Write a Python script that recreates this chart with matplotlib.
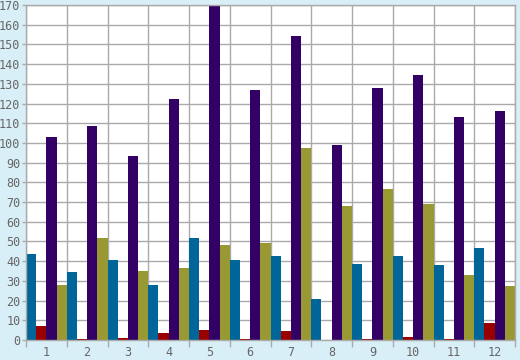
import numpy as np
import matplotlib

matplotlib.use("Agg")
import matplotlib.pyplot as plt

# values, per group 1..12
groups = [str(i) for i in range(1, 13)]
blue = [43.6, 34.5, 40.6, 28, 51.8, 40.6, 42.6, 20.8, 38.6, 42.6, 38, 46.7]
red = [7.1, 0.6, 1, 3.6, 5.1, 0.5, 4.6, 0.2, 0.3, 1.5, 0.3, 8.6]
purple = [103, 108.6, 93.4, 122.3, 170, 126.9, 154.3, 99, 127.9, 134.5, 113.2, 116.2]
olive = [27.9, 51.8, 35, 36.5, 48.2, 49.2, 97.5, 68, 76.6, 69, 33, 27.4]

series = [blue, red, purple, olive]
colors = ["#006699", "#990000", "#330066", "#999933"]

bg = "#d9eff7"
grid_c = "#aaaaaa"
text_c = "#666666"

fig = plt.figure(figsize=(5.2, 3.6), dpi=100, facecolor=bg)
ax = fig.add_axes([26 / 520, 20 / 360, (515 - 26) / 520, (340 - 5) / 360])
ax.set_facecolor("white")

n = len(series)
w = 1.0 / n
x = np.arange(len(groups))
for i, (vals, c) in enumerate(zip(series, colors)):
    ax.bar(x - 0.5 + w * (i + 0.5), vals, width=w, color=c, linewidth=0, zorder=2)

ax.set_xlim(-0.5, len(groups) - 0.5)
ax.set_ylim(0, 170)

ax.set_yticks(np.arange(0, 171, 10))
ax.set_xticks(np.arange(len(groups) + 1) - 0.5)
ax.set_xticklabels([])
ax.set_xticks(x, minor=True)
ax.set_xticklabels(groups, minor=True)

ax.grid(True, which="major", color=grid_c, linewidth=1, zorder=0)
ax.set_axisbelow(True)

ax.tick_params(axis="x", which="major", length=5, color=grid_c, width=1)
ax.tick_params(axis="x", which="minor", length=0, pad=4, labelcolor=text_c, labelsize=8.5)
ax.tick_params(axis="y", length=3, color=grid_c, width=1, pad=1, labelcolor=text_c, labelsize=8.5)

for lab in ax.get_xticklabels(minor=True) + ax.get_yticklabels():
    lab.set_family("DejaVu Sans Mono")

for s in ax.spines.values():
    s.set_color(grid_c)
    s.set_linewidth(1)

fig.savefig("out.png", dpi=100, facecolor=bg)
